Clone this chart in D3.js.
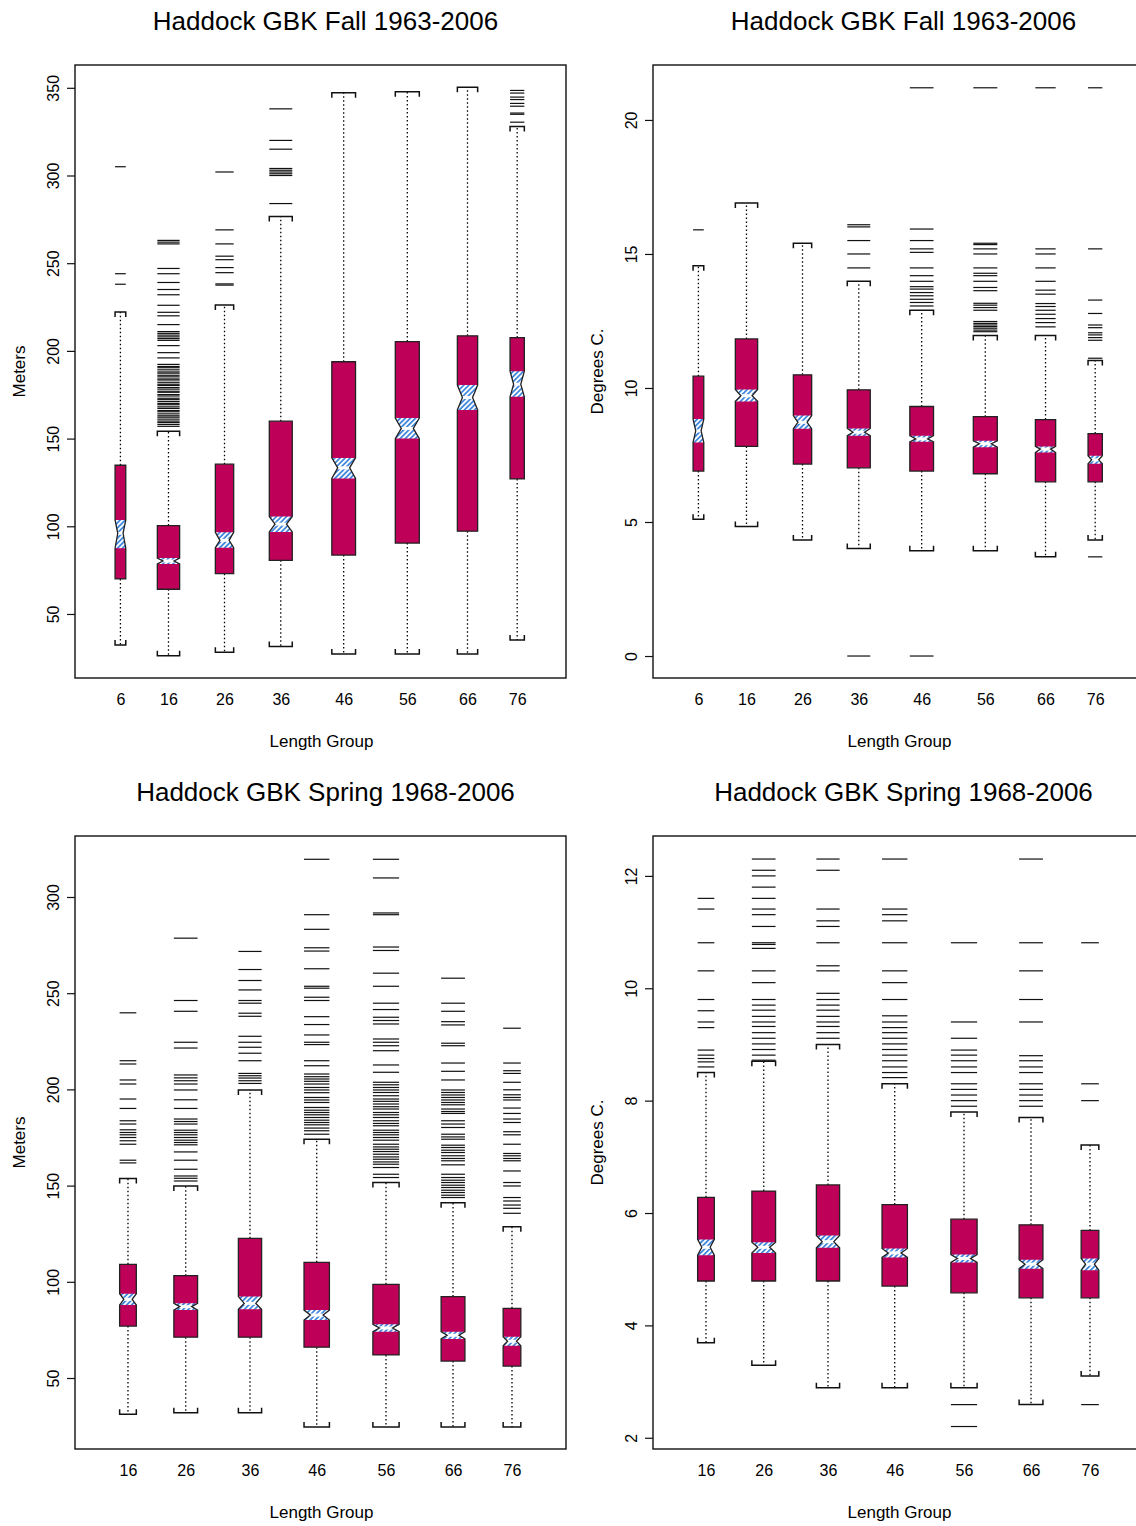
<!DOCTYPE html>
<html>
<head>
<meta charset="utf-8">
<script src="https://cdn.jsdelivr.net/npm/d3@7/dist/d3.min.js"></script>
<style>
  html, body { margin: 0; padding: 0; background: #fff; }
  svg { display: block; font-family: "Liberation Sans", Arial, Helvetica, sans-serif; }
</style>
</head>
<body>
<svg id="chart" width="1136" height="1526"></svg>
<script>
// ---------------- DATA ----------------
// Fall survey (1963-2006): length groups, box positions (axis units 0-100) and relative box widths
const fallGroups = ["6", "16", "26", "36", "46", "56", "66", "76"];
const fallPos = [9.25, 19.04, 30.45, 41.91, 54.72, 67.68, 79.94, 90.06];
const fallWidth = [2.18, 4.54, 3.73, 4.68, 4.83, 4.89, 4.13, 2.91];

// stats: [lower whisker, Q1, notch low, median, notch high, Q3, upper whisker]
const fallDepthStats = [
  [32.3, 70.0, 87.5, 96.0, 103.6, 134.8, 222.2],
  [26.2, 64.1, 78.5, 80.2, 81.9, 100.4, 154.2],
  [28.2, 73.0, 87.8, 92.0, 96.6, 135.4, 226.2],
  [31.4, 80.6, 96.8, 101.2, 105.6, 159.9, 276.6],
  [27.2, 83.6, 127.3, 133.3, 139.0, 193.8, 347.2],
  [27.2, 90.4, 150.0, 155.8, 161.7, 205.3, 347.7],
  [27.2, 97.2, 166.3, 173.4, 180.5, 208.6, 350.3],
  [35.2, 127.0, 173.8, 181.0, 188.4, 207.6, 328.0]
];
const fallDepthOutliers = [
  [305, 244, 238],
  [263, 262, 261, 247, 244, 239, 235, 232, 226, 222, 220, 215, 211, 210, 209, 208, 207, 206, 203, 199, 196,
   192.3, 191.1, 190.4, 189.2, 188.0, 187.3, 186.1, 185.2, 184.0, 183.4, 182.1, 181.0, 180.3, 179.1, 178.2,
   177.0, 176.4, 175.1, 174.3, 173.0, 172.2, 171.1, 170.0, 169.3, 168.1, 167.2, 166.0, 165.3, 164.1, 163.0,
   162.2, 161.1, 160.0, 159.2, 158.1, 157.0],
  [302, 269, 261, 254, 252, 247.5, 244.6, 238.2, 237.5],
  [338, 320, 315, 304, 303, 302, 301, 300, 284],
  [],
  [],
  [],
  [348.5, 347, 344.7, 343.3, 341.1, 339.5, 335.6, 334.9, 330.4]
];

const fallTempStats = [
  [5.10, 6.90, 7.97, 8.40, 8.84, 10.44, 14.56],
  [4.83, 7.82, 9.50, 9.71, 9.94, 11.83, 16.90],
  [4.33, 7.16, 8.48, 8.72, 8.97, 10.49, 15.40],
  [4.01, 7.02, 8.22, 8.35, 8.49, 9.93, 13.98],
  [3.93, 6.90, 7.99, 8.10, 8.22, 9.31, 12.90],
  [3.93, 6.80, 7.79, 7.92, 8.03, 8.93, 11.96],
  [3.70, 6.50, 7.59, 7.72, 7.82, 8.82, 11.96],
  [4.33, 6.50, 7.17, 7.32, 7.47, 8.30, 11.03]
];
const fallTempOutliers = [
  [15.9],
  [],
  [],
  [16.09, 16.01, 15.5, 15.0, 14.48, 0],
  [21.2, 15.93, 15.5, 15.19, 15.06, 14.48, 14.19, 13.98, 13.78, 13.69, 13.56, 13.44, 13.31, 13.19, 13.06, 0],
  [21.2, 15.4, 15.35, 15.19, 15.0, 14.48, 14.28, 14.19, 13.98, 13.75, 13.63, 13.16, 13.09, 13.0, 12.9,
   12.48, 12.41, 12.35, 12.29, 12.23, 12.16, 12.1],
  [21.2, 15.19, 15.0, 14.48, 13.98, 13.65, 13.5, 13.15, 13.04, 12.9, 12.75, 12.59, 12.44, 12.28],
  [21.2, 15.19, 13.28, 12.78, 12.35, 12.25, 12.06, 11.98, 11.88, 11.78, 11.11, 3.7]
];

// Spring survey (1968-2006)
const springGroups = ["16", "26", "36", "46", "56", "66", "76"];
const springPos = [10.79, 22.55, 35.64, 49.23, 63.34, 76.99, 89.0];
const springWidth = [3.40, 4.83, 4.73, 5.17, 5.34, 4.85, 3.60];

const springDepthStats = [
  [31.1, 77.0, 87.9, 90.9, 93.8, 109.1, 153.7],
  [32.0, 71.2, 85.3, 87.1, 88.8, 103.2, 149.8],
  [32.0, 71.2, 85.7, 88.8, 92.3, 122.6, 199.7],
  [24.5, 66.0, 80.1, 82.7, 85.3, 110.1, 174.1],
  [24.5, 62.0, 74.1, 76.0, 77.9, 98.7, 151.6],
  [24.5, 58.8, 70.3, 72.2, 74.1, 92.3, 141.1],
  [24.5, 56.2, 66.8, 69.1, 71.5, 86.2, 128.6]
];
const springDepthOutliers = [
  [239.8, 214.9, 213.2, 204.9, 202.8, 195, 190.1, 183.7, 182, 179, 177.6, 176.4, 175, 173.3, 171.5, 163.2, 161.8],
  [278.6, 246.2, 240.6, 224.5, 221.5, 207.5, 206, 204.5, 202.8, 199.7, 194.6, 190.1, 184.6, 183.3, 182, 178.8,
   177.6, 176.4, 175, 173.6, 172.4, 171.2, 167.5, 163.2, 158.5, 155, 153.8, 152.4],
  [271.7, 262.3, 256.6, 251.7, 246.2, 244.8, 239.6, 238, 227.6, 224.5, 221.9, 218.8, 214.9, 208.3, 207.1,
   205.9, 204.5, 203.1],
  [319.6, 290.8, 283.2, 273.6, 271.9, 262.7, 253.6, 252.6, 247.9, 246.2, 237.8, 233.7, 228.3, 224.5, 223.3,
   214.9, 212.3, 208.0, 206.6, 205.4, 204.2, 202.8, 201.0, 199.7, 198.3, 195.8, 194.5, 193.2, 190.6, 189.2,
   188.0, 186.8, 185.4, 184.0, 182.8, 181.6, 179.9, 178.5, 176.7],
  [319.6, 309.9, 291.7, 290.8, 274, 272.2, 260.4, 253.6, 244.8, 241.5, 237.5, 235.8, 234, 226.2, 224.5, 222.7,
   220.1, 212.7, 208.9, 203.7, 202.4, 201.0, 199.7, 198.4, 196.7, 195.0, 193.8, 192.4, 191.0, 189.8, 188.0,
   186.8, 185.4, 183.7, 182.3, 181.1, 178.8, 177.6, 176.4, 175.0, 173.6, 171.5, 170.1, 168.9, 167.7, 166.3,
   164.9, 163.7, 162.3, 161.1, 159.4, 155.9, 154.2],
  [257.8, 244.8, 240.6, 235.2, 233.5, 224, 222.7, 213.7, 209.4, 204.9, 199.7, 198.4, 197.1, 195.8, 194.5,
   193.2, 192.0, 189.8, 188.5, 187.5, 183.7, 182.0, 180.2, 176.7, 175.3, 174.1, 171.0, 169.8, 168.4, 167.2,
   165.5, 164.1, 162.9, 160.8, 155.9, 154.2, 152.8, 151.6, 150.2, 149.0, 147.6, 146.4, 145.0, 143.8],
  [231.8, 213.7, 209.7, 208.3, 203.7, 199.8, 197.2, 195.8, 194.5, 190.3, 187.5, 184.6, 182.8, 178, 176.4,
   171.5, 166.7, 165.5, 164.1, 162.9, 157.6, 151.6, 149.8, 143.8, 142.0, 139.9, 138.2, 135.6]
];

const springTempStats = [
  [3.69, 4.79, 5.25, 5.39, 5.53, 6.28, 8.50],
  [3.29, 4.79, 5.29, 5.39, 5.48, 6.39, 8.70],
  [2.89, 4.79, 5.38, 5.49, 5.60, 6.50, 9.00],
  [2.89, 4.70, 5.21, 5.29, 5.37, 6.15, 8.30],
  [2.89, 4.58, 5.12, 5.19, 5.26, 5.89, 7.80],
  [2.59, 4.49, 5.01, 5.09, 5.17, 5.79, 7.70],
  [3.10, 4.49, 4.98, 5.09, 5.19, 5.69, 7.21]
];
const springTempOutliers = [
  [11.6, 11.41, 10.81, 10.31, 9.8, 9.6, 9.4, 9.3, 8.9, 8.81, 8.75, 8.69, 8.6],
  [12.3, 12.1, 12.0, 11.8, 11.6, 11.41, 11.31, 11.1, 10.81, 10.78, 10.71, 10.31, 10.1, 9.8, 9.7, 9.61, 9.5,
   9.4, 9.32, 9.21, 9.11, 9.01, 8.91, 8.81, 8.72],
  [12.3, 12.1, 11.41, 11.2, 11.1, 10.81, 10.4, 10.31, 9.91, 9.8, 9.7, 9.61, 9.5, 9.4, 9.32, 9.21, 9.11],
  [12.3, 11.41, 11.31, 11.2, 10.81, 10.31, 10.1, 9.8, 9.51, 9.4, 9.3, 9.21, 9.11, 9.01, 8.91, 8.81, 8.71,
   8.6, 8.5, 8.41],
  [10.81, 9.4, 9.11, 8.9, 8.81, 8.71, 8.6, 8.5, 8.3, 8.2, 8.1, 8.0, 7.9, 2.59, 2.2],
  [12.3, 10.81, 10.31, 9.8, 9.4, 8.8, 8.71, 8.6, 8.5, 8.3, 8.2, 8.1, 8.0, 7.9],
  [10.81, 8.3, 8.0, 2.59]
];

const depthTicksFall = [50, 100, 150, 200, 250, 300, 350];
const tempTicksFall = [0, 5, 10, 15, 20];
const depthTicksSpring = [50, 100, 150, 200, 250, 300];
const tempTicksSpring = [2, 4, 6, 8, 10, 12];

const titles = ["Haddock GBK Fall 1963-2006", "Haddock GBK Fall 1963-2006",
                "Haddock GBK Spring 1968-2006", "Haddock GBK Spring 1968-2006"];
const yLabels = ["Meters", "Degrees C.", "Meters", "Degrees C."];
const xLabel = "Length Group";

// ---------------- DRAWING ----------------
const svg = d3.select("#chart");
svg.append("rect").attr("width", 1136).attr("height", 1526).attr("fill", "#fff");

const BOX_FILL = "#BE0059";
const HATCH = "#2B7BD8";
const INK = "#111";

const defs = svg.append("defs");
const pat = defs.append("pattern")
  .attr("id", "hatch").attr("patternUnits", "userSpaceOnUse")
  .attr("width", 3.6).attr("height", 3.6)
  .attr("patternTransform", "rotate(45)");
pat.append("rect").attr("width", 3.6).attr("height", 3.6).attr("fill", "#fff");
pat.append("line").attr("x1", 0.9).attr("y1", 0).attr("x2", 0.9).attr("y2", 3.6)
  .attr("stroke", HATCH).attr("stroke-width", 1.6);

const panels = [
  { x: 75, y: 65, groups: fallGroups, pos: fallPos, width: fallWidth, stats: fallDepthStats,
    out: fallDepthOutliers, domain: [13.5, 363], ticks: depthTicksFall, title: titles[0], ylab: yLabels[0] },
  { x: 653, y: 65, groups: fallGroups, pos: fallPos, width: fallWidth, stats: fallTempStats,
    out: fallTempOutliers, domain: [-0.82, 22.05], ticks: tempTicksFall, title: titles[1], ylab: yLabels[1] },
  { x: 75, y: 836, groups: springGroups, pos: springPos, width: springWidth, stats: springDepthStats,
    out: springDepthOutliers, domain: [13.1, 331.7], ticks: depthTicksSpring, title: titles[2], ylab: yLabels[2] },
  { x: 653, y: 836, groups: springGroups, pos: springPos, width: springWidth, stats: springTempStats,
    out: springTempOutliers, domain: [1.80, 12.71], ticks: tempTicksSpring, title: titles[3], ylab: yLabels[3] }
];

const PW = 491, PH = 613;

panels.forEach(p => {
  const g = svg.append("g").attr("transform", `translate(${p.x},${p.y})`);
  const x = d3.scaleLinear().domain([0, 100]).range([0, PW]);
  const y = d3.scaleLinear().domain(p.domain).range([PH, 0]);

  // title
  g.append("text").attr("x", PW / 2 + 5).attr("y", -35)
    .attr("text-anchor", "middle").attr("font-size", 26).attr("fill", "#000")
    .text(p.title);
  // x label
  g.append("text").attr("x", PW / 2 + 1).attr("y", PH + 69)
    .attr("text-anchor", "middle").attr("font-size", 17).attr("fill", "#000")
    .text(xLabel);
  // y label
  g.append("text").attr("transform", `translate(-50,${PH / 2}) rotate(-90)`)
    .attr("text-anchor", "middle").attr("font-size", 17).attr("fill", "#000")
    .text(p.ylab);

  // y axis
  const ya = g.append("g").call(d3.axisLeft(y).tickValues(p.ticks).tickSize(8).tickFormat(d3.format("d")));
  ya.select(".domain").remove();
  ya.selectAll(".tick line").attr("stroke", INK).attr("stroke-width", 1.2);
  ya.selectAll(".tick text")
    .attr("transform", "rotate(-90)").attr("x", 0).attr("y", -16).attr("dy", 0)
    .attr("text-anchor", "middle").attr("font-size", 16).attr("fill", "#000")
    .attr("font-family", "Liberation Sans, Arial, sans-serif");

  // x axis labels
  const xa = g.append("g").attr("transform", `translate(0,${PH})`)
    .call(d3.axisBottom(x).tickValues(p.pos).tickSize(0).tickFormat((d, i) => p.groups[i]));
  xa.select(".domain").remove();
  xa.selectAll(".tick text").attr("y", 27).attr("dy", 0).attr("font-size", 16).attr("fill", "#000")
    .attr("font-family", "Liberation Sans, Arial, sans-serif");

  // boxes
  p.groups.forEach((grp, i) => {
    const s = p.stats[i];
    const cx = x(p.pos[i]);
    const hw = (x(p.pos[i] + p.width[i] / 2) - x(p.pos[i] - p.width[i] / 2)) / 2;
    const [lo, q1, nl, med, nh, q3, hi] = s;
    const bg = g.append("g");

    // outliers
    bg.selectAll("line.out").data(p.out[i]).enter().append("line")
      .attr("x1", cx - hw).attr("x2", cx + hw)
      .attr("y1", d => y(d)).attr("y2", d => y(d))
      .attr("stroke", INK).attr("stroke-width", 1.2);

    // whiskers
    [[q3, hi], [q1, lo]].forEach(([a, b]) => {
      bg.append("line").attr("x1", cx).attr("x2", cx).attr("y1", y(a)).attr("y2", y(b))
        .attr("stroke", "#000").attr("stroke-width", 1.3).attr("stroke-dasharray", "1.5,2.5");
    });
    // staples (bracket-shaped)
    const tk = 5;
    const up = y(hi), dn = y(lo);
    bg.append("path")
      .attr("d", `M${cx - hw},${up + tk}V${up}H${cx + hw}V${up + tk}`)
      .attr("fill", "none").attr("stroke", INK).attr("stroke-width", 1.5);
    bg.append("path")
      .attr("d", `M${cx - hw},${dn - tk}V${dn}H${cx + hw}V${dn - tk}`)
      .attr("fill", "none").attr("stroke", INK).attr("stroke-width", 1.5);

    // notched box outline
    const yq3 = y(q3), yq1 = y(q1), ynh = y(nh), ynl = y(nl), ym = y(med);
    const outline = [
      [cx - hw, yq3], [cx + hw, yq3], [cx + hw, ynh], [cx + hw / 2, ym], [cx + hw, ynl],
      [cx + hw, yq1], [cx - hw, yq1], [cx - hw, ynl], [cx - hw / 2, ym], [cx - hw, ynh]
    ];
    const line = d3.line();
    bg.append("path").attr("d", line(outline) + "Z").attr("fill", BOX_FILL).attr("stroke", "none");
    const notch = [
      [cx - hw, ynh], [cx + hw, ynh], [cx + hw / 2, ym], [cx + hw, ynl],
      [cx - hw, ynl], [cx - hw / 2, ym]
    ];
    bg.append("path").attr("d", line(notch) + "Z").attr("fill", "url(#hatch)").attr("stroke", "none");
    // median (white)
    bg.append("line").attr("x1", cx - hw / 2 - 1).attr("x2", cx + hw / 2 + 1).attr("y1", ym).attr("y2", ym)
      .attr("stroke", "#fff").attr("stroke-width", 3);
    bg.append("path").attr("d", line(outline) + "Z").attr("fill", "none")
      .attr("stroke", "#222").attr("stroke-width", 1.3).attr("stroke-linejoin", "miter");
  });

  // plot frame
  g.append("rect").attr("x", 0).attr("y", 0).attr("width", PW).attr("height", PH)
    .attr("fill", "none").attr("stroke", INK).attr("stroke-width", 1.4);
});
</script>
</body>
</html>
